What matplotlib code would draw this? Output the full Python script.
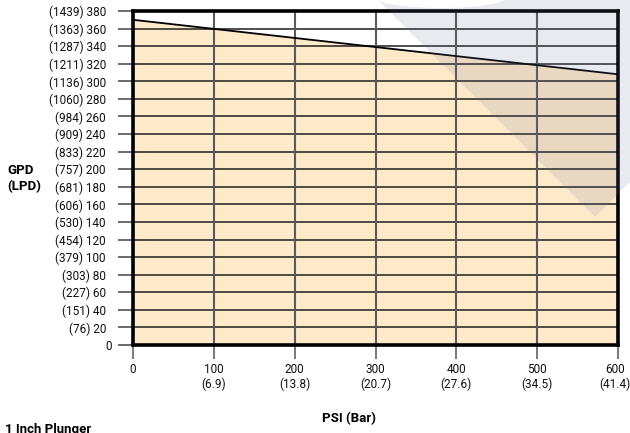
import matplotlib
matplotlib.use("Agg")
import matplotlib.pyplot as plt
from matplotlib.patches import Polygon, Ellipse
from matplotlib.transforms import ScaledTranslation

plt.rcParams['font.family'] = ['Liberation Sans Narrow', 'Roboto', 'DejaVu Sans']

# Data
psi = [0, 600]
gpd = [370, 308]
gpd_ticks = list(range(0, 381, 20))
lpd_labels = ["", "76", "151", "227", "303", "379", "454", "530", "606", "681", "757",
              "833", "909", "984", "1060", "1136", "1211", "1287", "1363", "1439"]
psi_ticks = [0, 100, 200, 300, 400, 500, 600]
bar_labels = ["", "6.9", "13.8", "20.7", "27.6", "34.5", "41.4"]

W, H = 630, 433
fig = plt.figure(figsize=(W / 100, H / 100), dpi=100)
fig.patch.set_facecolor('white')

l, r, t, b = 133, 618, 11, 345
ax = fig.add_axes([l / W, 1 - b / H, (r - l) / W, (b - t) / H])
ax.set_xlim(0, 600)
ax.set_ylim(0, 380)

ax.fill_between(psi, 0, gpd, color='#fee9c9', zorder=1, linewidth=0)
ax.plot(psi, gpd, color='black', linewidth=1.3, zorder=3)

ax.set_yticks(gpd_ticks)
ax.set_yticklabels([f"({p}) {g}" if p else f"{g}" for p, g in zip(lpd_labels, gpd_ticks)])
ax.set_xticks(psi_ticks)
ax.set_xticklabels([f"{p}\n({q})" if q else f"{p}" for p, q in zip(psi_ticks, bar_labels)])
for lab in ax.get_xticklabels():
    lab.set_linespacing(1.15)

for g in gpd_ticks:
    ax.axhline(g, color='#1e1e1e', linewidth=1.1, zorder=2)
for p in psi_ticks:
    ax.axvline(p, color='#5a5a5a', linewidth=1.5, zorder=2)

ax.tick_params(axis='y', length=11, width=1.1, color='#444444', pad=8.5, labelsize=8.5, labelcolor='#111111')
ax.tick_params(axis='x', length=10, width=1.1, color='#555555', pad=3, labelsize=8.5, labelcolor='#111111')
for s in ax.spines.values():
    s.set_linewidth(2.6)
    s.set_color('black')
    s.set_zorder(4)

# small offsets of individual labels as in the reference
ylabs = ax.get_yticklabels()
ylabs[0].set_transform(ylabs[0].get_transform() + ScaledTranslation(6 / 100, 0, fig.dpi_scale_trans))
xlabs = ax.get_xticklabels()
xlabs[-1].set_transform(xlabs[-1].get_transform() + ScaledTranslation(-3 / 100, 0, fig.dpi_scale_trans))

fig.text(7 / W, 1 - 178.5 / H, "GPD\n(LPD)", ha='left', va='center', fontsize=9.5,
         fontweight='bold', linespacing=1.3)
fig.text(349 / W, 1 - 419 / H, "PSI (Bar)", ha='center', va='center', fontsize=9.5, fontweight='bold')
fig.text(5 / W, 1 - 423 / H, "1 Inch Plunger", ha='left', va='top', fontsize=9.5, fontweight='bold')

# watermark overlay
ov = fig.add_axes([0, 0, 1, 1], zorder=10)
ov.set_xlim(0, W)
ov.set_ylim(H, 0)
ov.axis('off')
ov.patch.set_alpha(0)
ov.add_patch(Polygon([(378, 0), (595, 217), (632, 180), (632, 0)], closed=True,
                     facecolor=(108 / 255, 115 / 255, 148 / 255), alpha=0.15, linewidth=0))
ov.add_patch(Ellipse((441, -2), 128, 20, facecolor='white', linewidth=0))

fig.savefig("out.png", dpi=100)
